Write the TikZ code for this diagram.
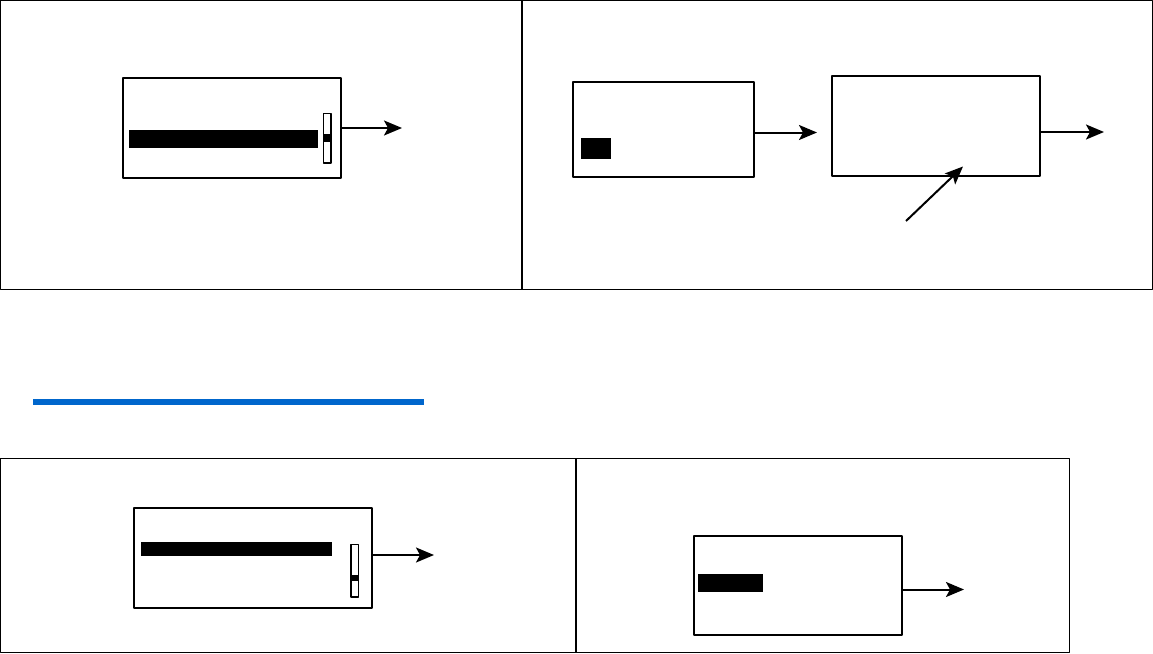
\documentclass[tikz,border=0pt]{standalone}
\usetikzlibrary{arrows.meta}
\definecolor{lineblue}{RGB}{0,102,204}
\begin{document}
\begin{tikzpicture}[x=1pt,y=-1pt,line join=round,
    screen/.style={draw,line width=2.2pt,inner sep=0pt,minimum width=#1},
    panel/.style={draw,line width=1.4pt},
    slider/.style={draw,line width=1.6pt},
    link/.style={-{Stealth[length=18pt,width=15pt,inset=4pt]},line width=2pt}]
  \useasboundingbox (0,0) rectangle (1153,653);
  % frames
  \draw[panel] (0.7,0.7) rectangle (1152.3,289.5) (522,0.7)--(522,289.5);
  \draw[panel] (0.7,458.5) rectangle (1069.5,652.3) (576,458.5)--(576,652.3);
  \fill[lineblue] (33,398.5) rectangle (424,404.5);
  % top left
  \node[screen=218pt,minimum height=100pt] (A) at (232,128) {};
  \fill (129,130) rectangle (318,147.5);
  \draw[slider] (323.5,113.5) rectangle (331,163);
  \fill (323.5,133.5) rectangle (331,141.5);
  \coordinate (Aout) at (402,128);
  \draw[link] (A.east)--(Aout);
  % top right
  \node[screen=181pt,minimum height=95pt] (B) at (663.5,129.5) {};
  \fill (581,138) rectangle (610.5,158.5);
  \node[screen=208pt,minimum height=100pt] (C) at (936,126) {};
  \coordinate (Bout) at (817,132.5);
  \coordinate (Cout) at (1104,132);
  \coordinate (Cin) at (906,221);
  \coordinate (Ctip) at (963,166.5);
  \draw[link] ([yshift=-3pt]B.east)--(Bout);
  \draw[link] ([yshift=-6pt]C.east)--(Cout);
  \draw[link] (Cin)--(Ctip);
  % bottom left
  \node[screen=238pt,minimum height=100pt] (D) at (253,558) {};
  \fill (141,542) rectangle (332,556);
  \draw[slider] (351,544.5) rectangle (358.5,597);
  \fill (351,574.5) rectangle (358.5,581);
  \coordinate (Dout) at (434,555);
  \draw[link] ([yshift=3pt]D.east)--(Dout);
  % bottom right
  \node[screen=207.5pt,minimum height=99pt] (E) at (798,585.5) {};
  \fill (697.5,574) rectangle (762.5,591.5);
  \coordinate (Eout) at (964,589.5);
  \draw[link] ([yshift=-4pt]E.east)--(Eout);
\end{tikzpicture}
\end{document}
